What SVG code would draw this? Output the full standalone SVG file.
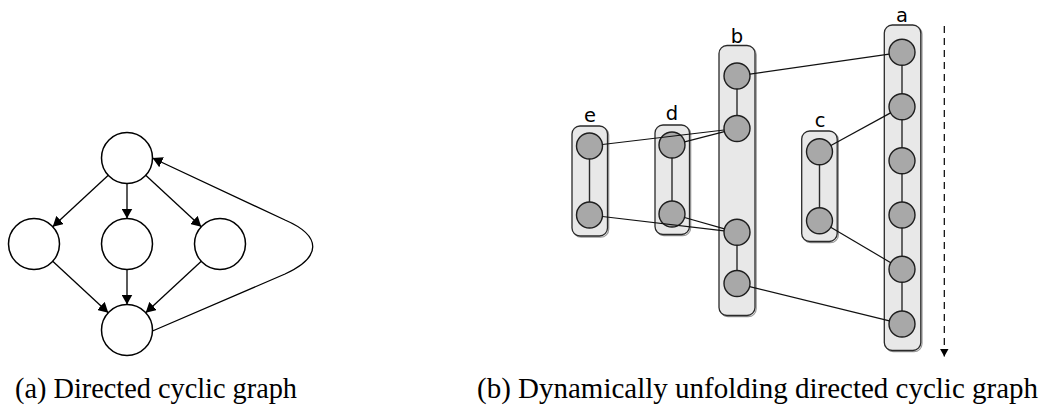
<svg xmlns="http://www.w3.org/2000/svg" width="1050" height="407" viewBox="0 0 1050 407">
  <style>
    .vtx { fill: #ffffff; stroke: #000000; stroke-width: 1.5; }
    .arc { fill: none; stroke: #000000; stroke-width: 1.3; }
    .lane { fill: #e8e8e8; stroke: #2a2a2a; stroke-width: 1.3; }
    .lane-shadow { fill: none; stroke: #555555; stroke-width: 1.2; opacity: 0.6; }
    .step { fill: #a8a8a8; stroke: #1e1e1e; stroke-width: 1.4; }
    .chain { stroke: #2a2a2a; stroke-width: 1.4; }
    .link { fill: none; stroke: #111111; stroke-width: 1.2; }
    .lbl { font-family: "DejaVu Sans", sans-serif; font-size: 19.5px; fill: #000000; text-anchor: middle; }
    .cap { font-family: "Liberation Serif", "Times New Roman", serif; font-size: 28.5px; fill: #000000; }
  </style>
  <defs>
    <marker id="head" markerUnits="userSpaceOnUse" markerWidth="11" markerHeight="11" refX="10" refY="5.5" orient="auto">
      <path d="M0,0 L10,5.5 L0,11 Z" fill="#000000"/>
    </marker>
    <marker id="time-head" markerUnits="userSpaceOnUse" markerWidth="9" markerHeight="9" refX="8" refY="4.5" orient="auto">
      <path d="M0,0 L8,4.5 L0,9 Z" fill="#000000"/>
    </marker>
  </defs>

  <!-- (a) directed cyclic graph -->
  <g id="graph-a">
    <g id="a-top"><circle class="vtx" cx="127" cy="158" r="25.5"/></g>
    <g id="a-left"><circle class="vtx" cx="34" cy="244" r="25.5"/></g>
    <g id="a-mid"><circle class="vtx" cx="127" cy="244" r="25.5"/></g>
    <g id="a-right"><circle class="vtx" cx="220" cy="244" r="25.5"/></g>
    <g id="a-bottom"><circle class="vtx" cx="127" cy="330" r="25.5"/></g>
    <g id="a-edges">
      <line class="arc" x1="108.3" y1="175.3" x2="52.7" y2="226.7" marker-end="url(#head)"/>
      <line class="arc" x1="127" y1="183.5" x2="127" y2="218.5" marker-end="url(#head)"/>
      <line class="arc" x1="145.7" y1="175.3" x2="201.3" y2="226.7" marker-end="url(#head)"/>
      <line class="arc" x1="52.7" y1="261.3" x2="108.3" y2="312.7" marker-end="url(#head)"/>
      <line class="arc" x1="127" y1="269.5" x2="127" y2="304.5" marker-end="url(#head)"/>
      <line class="arc" x1="201.3" y1="261.3" x2="145.7" y2="312.7" marker-end="url(#head)"/>
      <path class="arc" d="M152.5,331 L285,274 C322,257 322,236 285,220 L152.5,158" marker-end="url(#head)"/>
    </g>
  </g>

  <!-- (b) unfolding lanes -->
  <g id="lane-e">
    <rect class="lane-shadow" x="573.2" y="127.2" width="35.5" height="110" rx="8"/>
    <rect class="lane" x="572" y="126" width="35.5" height="110" rx="8"/>
    <text class="lbl" x="590" y="121.5">e</text>
    <line class="chain" x1="589.5" y1="159" x2="589.5" y2="202"/>
    <circle class="step" cx="589.5" cy="146" r="13"/>
    <circle class="step" cx="589.5" cy="215" r="13"/>
  </g>
  <g id="lane-d">
    <rect class="lane-shadow" x="656.2" y="126.2" width="34.5" height="109.5" rx="8"/>
    <rect class="lane" x="655" y="125" width="34.5" height="109.5" rx="8"/>
    <text class="lbl" x="672" y="120">d</text>
    <line class="chain" x1="672" y1="158" x2="672" y2="201"/>
    <circle class="step" cx="672" cy="145" r="13"/>
    <circle class="step" cx="672" cy="214" r="13"/>
  </g>
  <g id="lane-b">
    <rect class="lane-shadow" x="720.2" y="46.7" width="36" height="270" rx="8"/>
    <rect class="lane" x="719" y="45.5" width="36" height="270" rx="8"/>
    <text class="lbl" x="737" y="43">b</text>
    <line class="chain" x1="737" y1="89" x2="737" y2="115.5"/>
    <line class="chain" x1="737" y1="245.3" x2="737" y2="270.5"/>
    <circle class="step" cx="737" cy="76" r="13"/>
    <circle class="step" cx="737" cy="128.5" r="13"/>
    <circle class="step" cx="737" cy="232.3" r="13"/>
    <circle class="step" cx="737" cy="283.5" r="13"/>
  </g>
  <g id="lane-c">
    <rect class="lane-shadow" x="802.9" y="132.2" width="35.5" height="110.5" rx="8"/>
    <rect class="lane" x="801.7" y="131" width="35.5" height="110.5" rx="8"/>
    <text class="lbl" x="820" y="127">c</text>
    <line class="chain" x1="819.5" y1="164.7" x2="819.5" y2="207.7"/>
    <circle class="step" cx="819.5" cy="151.7" r="13"/>
    <circle class="step" cx="819.5" cy="220.7" r="13"/>
  </g>
  <g id="lane-a">
    <rect class="lane-shadow" x="885.5" y="26.2" width="36.5" height="325.5" rx="8"/>
    <rect class="lane" x="884.3" y="25" width="36.5" height="325.5" rx="8"/>
    <text class="lbl" x="902" y="21.5">a</text>
    <line class="chain" x1="902" y1="65" x2="902" y2="311"/>
    <circle class="step" cx="902" cy="52.3" r="13"/>
    <circle class="step" cx="902" cy="106.7" r="13"/>
    <circle class="step" cx="902" cy="160.7" r="13"/>
    <circle class="step" cx="902" cy="215" r="13"/>
    <circle class="step" cx="902" cy="269.3" r="13"/>
    <circle class="step" cx="902" cy="324" r="13"/>
  </g>

  <!-- cross-lane dependencies -->
  <g id="links">
    <line class="link" x1="749.9" y1="74.2" x2="889.1" y2="54.1"/>
    <line class="link" x1="890.6" y1="112.9" x2="830.9" y2="145.5"/>
    <line class="link" x1="830.7" y1="227.3" x2="890.8" y2="262.7"/>
    <line class="link" x1="749.6" y1="286.6" x2="889.4" y2="320.9"/>
    <line class="link" x1="602.4" y1="144.5" x2="724.1" y2="130"/>
    <line class="link" x1="684.6" y1="141.8" x2="724.4" y2="131.7"/>
    <line class="link" x1="602.4" y1="216.5" x2="724.1" y2="230.8"/>
    <line class="link" x1="684.5" y1="217.5" x2="724.5" y2="228.8"/>
    <!-- time axis -->
    <line x1="944.3" y1="26" x2="944.3" y2="356.5" stroke="#000000" stroke-width="1.2" stroke-dasharray="7,5" marker-end="url(#time-head)"/>
  </g>

  <text class="cap" x="15" y="398" textLength="282" lengthAdjust="spacingAndGlyphs">(a) Directed cyclic graph</text>
  <text class="cap" x="477" y="398" textLength="561" lengthAdjust="spacingAndGlyphs">(b) Dynamically unfolding directed cyclic graph</text>
</svg>
